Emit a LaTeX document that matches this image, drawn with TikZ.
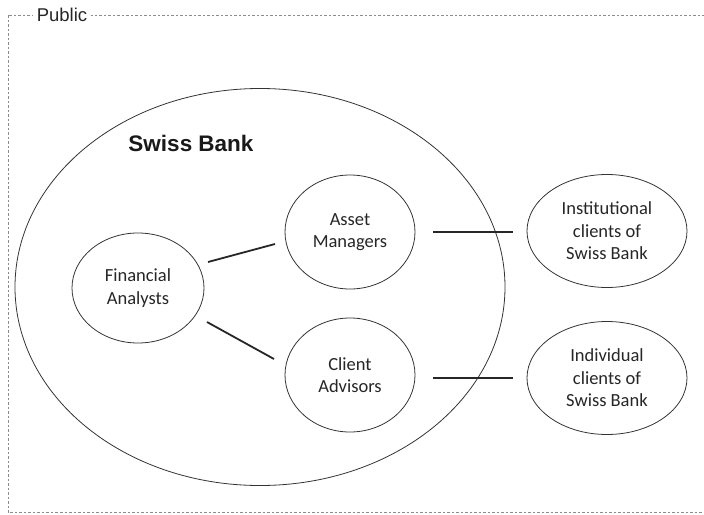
\documentclass[tikz,border=0pt]{standalone}
\usepackage{fontspec}
\usetikzlibrary{shapes.geometric}
\setmainfont{Carlito}
\newfontfamily\arialfont{Liberation Sans}
\begin{document}
\begin{tikzpicture}[x=1pt,y=-1pt,
  ell/.style={draw=black!80, line width=0.8pt, ellipse, inner sep=0pt, align=center,
    font=\fontsize{18.5}{22.5}\selectfont, text=black!85},
  conn/.style={line width=1.8pt, black!85},
  frame/.style={draw=black!45, line width=1pt, dash pattern=on 2.5pt off 2pt}]
\useasboundingbox (0,0) rectangle (704,514);
\draw[frame] (8,15) rectangle (712,512);
\node[fill=white, inner xsep=4pt, font=\arialfont\fontsize{18.5}{20}\selectfont, text=black!85] (pub) at (62,15) {Public};
\node[draw=black!80, line width=0.8pt, ellipse, minimum width=490, minimum height=397] (bank) at (260,287) {};
\node[font=\arialfont\bfseries\fontsize{22.5}{26}\selectfont, text=black!90] (bankt) at (191,143) {Swiss Bank};
\node[ell, minimum width=132, minimum height=110] (fa) at (138,288) {Financial\\Analysts};
\node[ell, minimum width=130, minimum height=114] (am) at (350,232) {Asset\\Managers};
\node[ell, minimum width=130, minimum height=114] (ca) at (350,375) {Client\\Advisors};
\node[ell, minimum width=160, minimum height=113] (inst) at (607,231) {Institutional\\clients of\\Swiss Bank};
\node[ell, minimum width=160, minimum height=113] (ind) at (607,378) {Individual\\clients of\\Swiss Bank};
\coordinate (a1) at (208,262); \coordinate (a2) at (275,244);
\coordinate (b1) at (207,322); \coordinate (b2) at (274,359);
\coordinate (c1) at (433,232); \coordinate (c2) at (513,232);
\coordinate (d1) at (433,378); \coordinate (d2) at (513,378);
\draw[conn] (a1) -- (a2);
\draw[conn] (b1) -- (b2);
\draw[conn] (c1) -- (c2);
\draw[conn] (d1) -- (d2);
\end{tikzpicture}
\end{document}
